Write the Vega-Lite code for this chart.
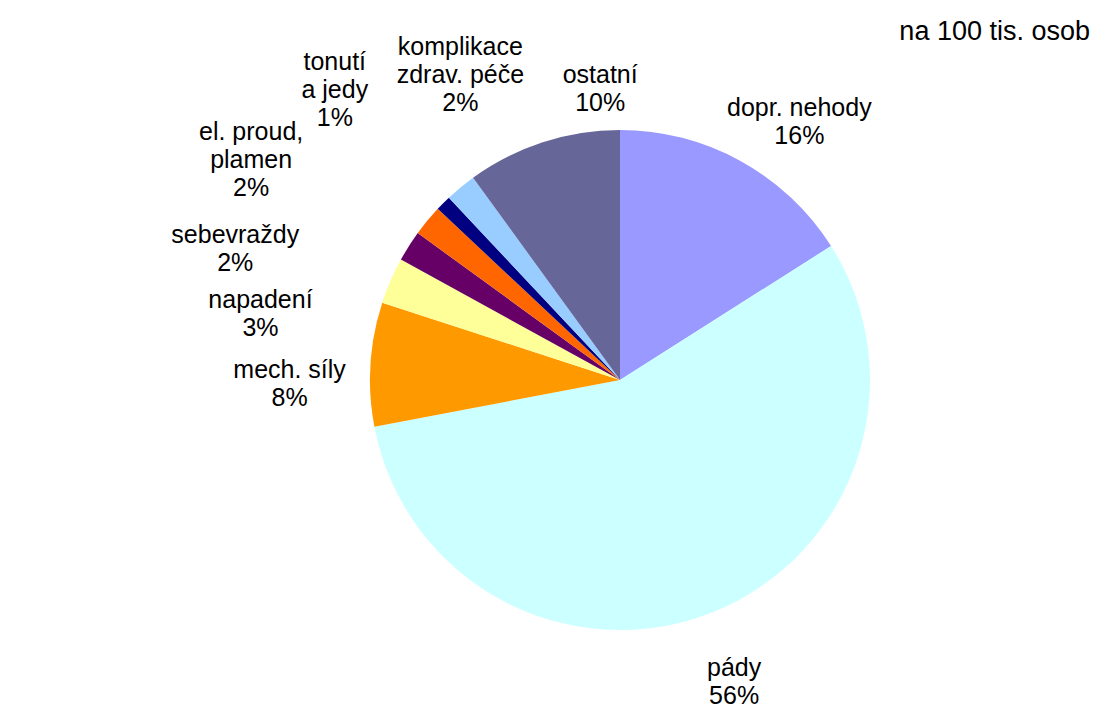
{
  "$schema": "https://vega.github.io/schema/vega-lite/v6.json",
  "width": 1000,
  "height": 672,
  "autosize": {"type": "none"},
  "padding": {"left": 120, "right": 0, "top": 44, "bottom": 2},
  "background": "white",
  "title": {"text": "na 100 tis. osob", "anchor": "end", "frame": "group", "fontSize": 27, "font": "Liberation Sans", "fontWeight": "normal", "color": "black", "offset": 4, "dx": -30, "dy": 76},
  "view": {"stroke": null},
  "config": {"text": {"fontSize": 25, "font": "Liberation Sans", "lineBreak": "\n", "lineHeight": 28, "color": "black", "radius": 310}},
  "data": {
    "values": [
      {"idx": 1, "cat": "dopr. nehody", "pct": 16, "label": "dopr. nehody\n16%"},
      {"idx": 2, "cat": "pády", "pct": 56, "label": "pády\n56%"},
      {"idx": 3, "cat": "mech. síly", "pct": 8, "label": "mech. síly\n8%"},
      {"idx": 4, "cat": "napadení", "pct": 3, "label": "napadení\n3%"},
      {"idx": 5, "cat": "sebevraždy", "pct": 2, "label": "sebevraždy\n2%"},
      {"idx": 6, "cat": "el. proud, plamen", "pct": 2, "label": "el. proud,\nplamen\n2%"},
      {"idx": 7, "cat": "tonutí a jedy", "pct": 1, "label": "tonutí\na jedy\n1%"},
      {"idx": 8, "cat": "komplikace zdrav. péče", "pct": 2, "label": "komplikace\nzdrav. péče\n2%"},
      {"idx": 9, "cat": "ostatní", "pct": 10, "label": "ostatní\n10%"}
    ]
  },
  "encoding": {
    "theta": {"field": "pct", "type": "quantitative", "stack": true},
    "order": {"field": "idx", "type": "quantitative"}
  },
  "layer": [
    {
      "mark": {"type": "arc", "outerRadius": 250},
      "encoding": {
        "color": {
          "field": "cat",
          "type": "nominal",
          "legend": null,
          "scale": {
            "domain": ["dopr. nehody", "pády", "mech. síly", "napadení", "sebevraždy", "el. proud, plamen", "tonutí a jedy", "komplikace zdrav. péče", "ostatní"],
            "range": ["#9999FF", "#CCFFFF", "#FF9900", "#FFFF99", "#660066", "#FF6600", "#000080", "#99CCFF", "#666699"]
          }
        }
      }
    },
    {
      "mark": {"type": "text", "dx": 30},
      "encoding": {"text": {"condition": {"test": "datum.idx == 1", "field": "label"}, "value": ""}}
    },
    {
      "mark": {"type": "text"},
      "encoding": {"text": {"condition": {"test": "datum.idx == 2", "field": "label"}, "value": ""}}
    },
    {
      "mark": {"type": "text", "dx": -21, "dy": 9},
      "encoding": {"text": {"condition": {"test": "datum.idx == 3", "field": "label"}, "value": ""}}
    },
    {
      "mark": {"type": "text", "dx": -75, "dy": 43},
      "encoding": {"text": {"condition": {"test": "datum.idx == 4", "field": "label"}, "value": ""}}
    },
    {
      "mark": {"type": "text", "dx": -123, "dy": 21},
      "encoding": {"text": {"condition": {"test": "datum.idx == 5", "field": "label"}, "value": ""}}
    },
    {
      "mark": {"type": "text", "dx": -130, "dy": -50},
      "encoding": {"text": {"condition": {"test": "datum.idx == 6", "field": "label"}, "value": ""}}
    },
    {
      "mark": {"type": "text", "dx": -66, "dy": -99},
      "encoding": {"text": {"condition": {"test": "datum.idx == 7", "field": "label"}, "value": ""}}
    },
    {
      "mark": {"type": "text", "dx": 38, "dy": -94},
      "encoding": {"text": {"condition": {"test": "datum.idx == 8", "field": "label"}, "value": ""}}
    },
    {
      "mark": {"type": "text", "dx": 76, "dy": -10},
      "encoding": {"text": {"condition": {"test": "datum.idx == 9", "field": "label"}, "value": ""}}
    }
  ]
}
